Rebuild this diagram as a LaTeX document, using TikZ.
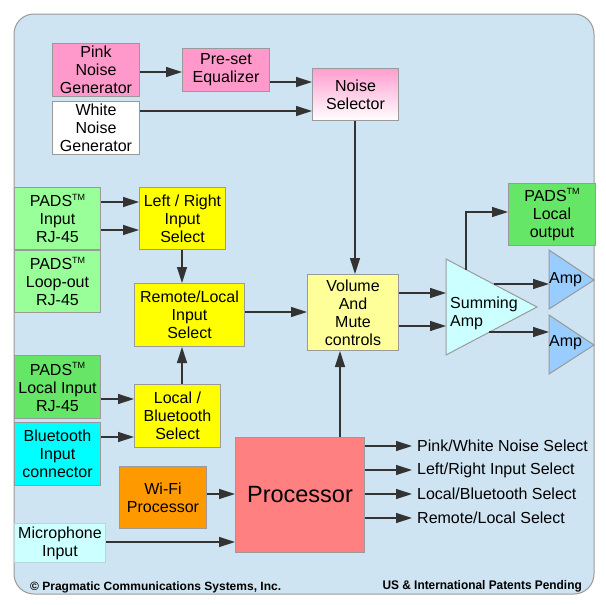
\documentclass[tikz,border=0pt]{standalone}
\usepackage{fontspec}
\setmainfont{Liberation Sans}
\usetikzlibrary{arrows.meta}
\definecolor{bgc}{HTML}{CFE4F2}
\definecolor{bgborder}{HTML}{9A9A9A}
\definecolor{bordc}{HTML}{9A9A9A}
\definecolor{pinkc}{HTML}{FF99CC}
\definecolor{nselc}{HTML}{FF9ECF}
\definecolor{lgreenc}{HTML}{99FF99}
\definecolor{greenc}{HTML}{66E666}
\definecolor{yellowc}{HTML}{FFFF00}
\definecolor{lyellowc}{HTML}{FFFF99}
\definecolor{cyanc}{HTML}{00FFFF}
\definecolor{orangec}{HTML}{FF9900}
\definecolor{salmonc}{HTML}{FF8080}
\definecolor{lcyanc}{HTML}{CCFFFF}
\definecolor{ampc}{HTML}{99CCFF}
\definecolor{linec}{HTML}{333333}
\newcommand\padstm{\raisebox{0.75ex}{\fontsize{9}{9}\selectfont TM}}
\tikzset{
  blk/.style={draw=bordc, line width=1pt, anchor=north west, inner sep=1pt, align=center,
    font=\fontsize{16}{18}\selectfont},
  arr/.style={draw=linec, line width=1.3pt, -{Triangle[length=16pt,width=10pt]}},
  tri/.style={draw=bordc, line width=1pt},
  lbl/.style={anchor=west, inner sep=0pt, font=\fontsize{16}{18}\selectfont},
}
\begin{document}
\begin{tikzpicture}[x=1pt,y=-1pt]
\useasboundingbox (0,0) rectangle (605,605);
\draw[fill=bgc, draw=bgborder, line width=1pt, rounded corners=20pt] (14,14) rectangle (594,594);

% noise section
\node[blk, fill=pinkc, minimum width=87pt, minimum height=53pt] (pink) at (52,43) {Pink\\Noise\\Generator};
\node[blk, fill=pinkc, minimum width=87pt, minimum height=43pt] (preset) at (182,48) {Pre-set\\Equalizer};
\node[blk, fill=white, minimum width=87pt, minimum height=53pt] (white) at (52,101) {White\\Noise\\Generator};
\node[blk, top color=nselc, bottom color=white, minimum width=86pt, minimum height=52pt] (nsel) at (312,68) {Noise\\Selector};

% inputs
\node[blk, fill=lgreenc, minimum width=86pt, minimum height=62pt] (padsin) at (14,187) {PADS\padstm\\Input\\RJ-45};
\node[blk, fill=lgreenc, minimum width=86pt, minimum height=62pt] (padsloop) at (14,250) {PADS\padstm\\Loop-out\\RJ-45};
\node[blk, fill=yellowc, minimum width=86pt, minimum height=62pt] (lr) at (139,187) {Left / Right\\Input\\Select};
\node[blk, fill=yellowc, minimum width=110pt, minimum height=63pt] (rl) at (134,283) {Remote/Local\\Input\\Select};
\node[blk, fill=lyellowc, minimum width=91pt, minimum height=76pt] (vol) at (307,274) {Volume\\And\\Mute\\controls};
\node[blk, fill=greenc, minimum width=86pt, minimum height=63pt] (padsloc) at (14,355) {PADS\padstm\\Local Input\\RJ-45};
\node[blk, fill=cyanc, minimum width=86pt, minimum height=63pt] (bt) at (14,422) {Bluetooth\\Input\\connector};
\node[blk, fill=yellowc, minimum width=86pt, minimum height=63pt] (lb) at (134,384) {Local /\\Bluetooth\\Select};
\node[blk, fill=orangec, minimum width=87pt, minimum height=62pt] (wifi) at (119,466) {Wi-Fi\\Processor};
\node[blk, fill=salmonc, minimum width=129pt, minimum height=115pt, font=\fontsize{23.5}{26}\selectfont] (proc) at (235,437) {Processor};
\node[blk, fill=lcyanc, draw=lcyanc!70!gray, minimum width=91pt, minimum height=39pt] (mic) at (14,523) {Microphone\\Input};
\node[blk, fill=greenc, minimum width=87pt, minimum height=62pt] (lout) at (508,183) {PADS\padstm\\Local\\output};

% summing amp and amps
\coordinate (sa1) at (446,259);
\coordinate (sa2) at (446,355);
\coordinate (sa3) at (537,307);
\draw[tri, fill=lcyanc] (sa1) -- (sa3) -- (sa2) -- cycle;
\node[lbl, align=left] (satext) at (450,313) {Summing\\Amp};
\coordinate (a1a) at (549,250);
\coordinate (a1b) at (549,309);
\coordinate (a1c) at (594,280);
\draw[tri, fill=ampc] (a1a) -- (a1c) -- (a1b) -- cycle;
\node[lbl] (amp1) at (549,280) {Amp};
\coordinate (a2a) at (549,315);
\coordinate (a2b) at (549,374);
\coordinate (a2c) at (594,345);
\draw[tri, fill=ampc] (a2a) -- (a2c) -- (a2b) -- cycle;
\node[lbl] (amp2) at (549,343) {Amp};

% connectors
\draw[arr] (pink.east |- 0,72) -- (preset.west |- 0,72);
\draw[arr] (preset.east |- 0,82) -- (nsel.west |- 0,82);
\draw[arr] (white.east |- 0,111) -- (nsel.west |- 0,111);
\draw[arr] (nsel.south -| 355,0) -- (vol.north -| 355,0);
\draw[arr] (padsin.east |- 0,202) -- (lr.west |- 0,202);
\draw[arr] (padsin.east |- 0,230) -- (lr.west |- 0,230);
\draw[arr] (lr.south -| 182,0) -- (rl.north -| 182,0);
\draw[arr] (rl.east |- 0,312) -- (vol.west |- 0,312);
\draw[arr] (padsloc.east |- 0,399) -- (lb.west |- 0,399);
\draw[arr] (bt.east |- 0,437) -- (lb.west |- 0,437);
\draw[arr] (lb.north -| 182,0) -- (rl.south -| 182,0);
\draw[arr] (wifi.east |- 0,494) -- (proc.west |- 0,494);
\draw[arr] (mic.east |- 0,542) -- (proc.west |- 0,542);
\draw[arr] (proc.north -| 340,0) -- (vol.south -| 340,0);
\draw[arr] (vol.east |- 0,293) -- (sa1 |- 0,293);
\draw[arr] (vol.east |- 0,326) -- (sa1 |- 0,326);
\coordinate (sout) at (466,269.5);
\draw[arr] (sout) -- (466,212) -- (lout.west |- 0,212);
\coordinate (sa1out) at (494,284);
\coordinate (sa2out) at (489,332);
\draw[arr] (sa1out) -- (a1a |- sa1out);
\draw[arr] (sa2out) -- (a2a |- sa2out);

% processor outputs
\node[lbl] (o1) at (417,446) {Pink/White Noise Select};
\node[lbl] (o2) at (417,470) {Left/Right Input Select};
\node[lbl] (o3) at (417,494) {Local/Bluetooth Select};
\node[lbl] (o4) at (417,518) {Remote/Local Select};
\foreach \o in {o1,o2,o3,o4}{
  \draw[arr] (proc.east |- \o.west) -- ([xshift=-5pt]\o.west);
}

% footer
\node[anchor=west, inner sep=0pt, font=\bfseries\fontsize{12}{12}\selectfont] (copy) at (30,587) {\textcopyright{} Pragmatic Communications Systems, Inc.};
\node[anchor=east, inner sep=0pt, font=\bfseries\fontsize{12.5}{13}\selectfont] (pat) at (582,586.5) {\scalebox{0.95}[1]{US \& International Patents Pending}};
\end{tikzpicture}
\end{document}
